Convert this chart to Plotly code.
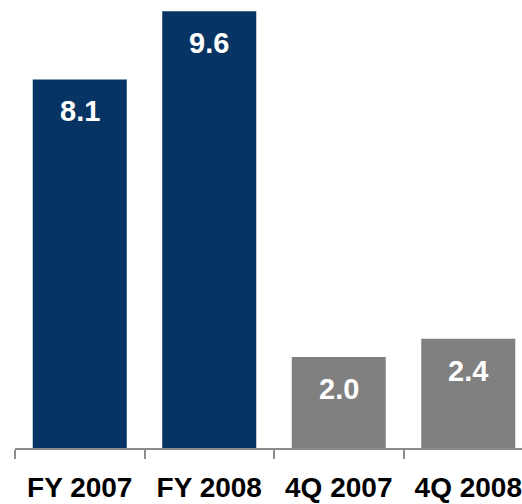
import plotly.graph_objects as go

# Revenue by period (values shown on bars)
categories = ["FY 2007", "FY 2008", "4Q 2007", "4Q 2008"]
values = [8.1, 9.6, 2.0, 2.4]
value_labels = ["8.1", "9.6", "2.0", "2.4"]
bar_colors = ["#083463", "#083463", "#808080", "#808080"]

positions = list(range(len(categories)))

fig = go.Figure(
    go.Bar(
        x=positions,
        y=values,
        marker=dict(color=bar_colors, line=dict(width=0)),
        hoverinfo="skip",
    )
)

# Value labels sit inside each bar, just below its top
for pos, val, lab in zip(positions, values, value_labels):
    fig.add_annotation(
        x=pos, y=val, text=lab, showarrow=False,
        yanchor="middle", yshift=-32,
        font=dict(family="Liberation Sans, Arial", size=29, color="white", weight="bold"),
    )

fig.update_layout(
    width=522, height=504,
    margin=dict(l=15, r=0, t=0, b=56, autoexpand=False),
    paper_bgcolor="white", plot_bgcolor="white",
    bargap=0.274,
    showlegend=False,
    xaxis=dict(
        range=[-0.5, 3.415],
        tickvals=positions,
        ticktext=categories,
        ticks="",
        automargin=False,
        showgrid=False, zeroline=False,
        showline=True, linecolor="#8c8c8c", linewidth=2,
        tickfont=dict(family="Liberation Sans, Arial", size=28, color="black", weight="bold"),
        ticklabelstandoff=13,
        minor=dict(tickvals=[-0.5, 0.5, 1.5, 2.5], ticks="outside", ticklen=9,
                   tickwidth=2, tickcolor="#8c8c8c", showgrid=False),
        fixedrange=True,
    ),
    yaxis=dict(
        range=[0, 9.846],
        visible=False,
        automargin=False,
        showgrid=False, zeroline=False,
        fixedrange=True,
    ),
)

fig.write_html("out.html")
